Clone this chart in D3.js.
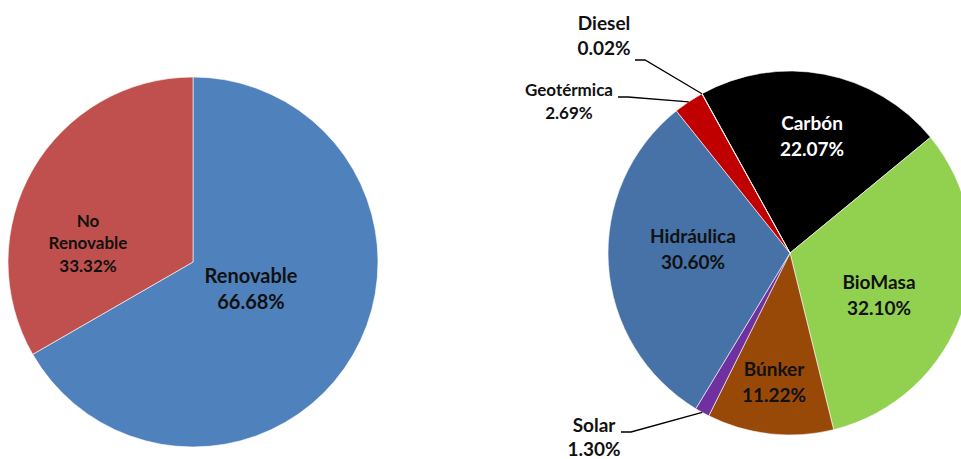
<!DOCTYPE html>
<html>
<head>
<meta charset="utf-8">
<script src="https://cdn.jsdelivr.net/npm/d3@7"></script>
<style>
  html, body { margin: 0; padding: 0; background: #fff; }
  svg { display: block; }
  text { font-family: Lato, "Open Sans", sans-serif; font-weight: bold; }
</style>
</head>
<body>
<svg id="chart" width="961" height="459"></svg>
<script>
// ---- Data ----
const leftCategories = ["Renovable", "No Renovable"];
const leftValues = [66.68, 33.32];

const rightCategories = ["Carbón", "BioMasa", "Búnker", "Solar", "Hidráulica", "Geotérmica", "Diesel"];
const rightValues = [22.07, 32.10, 11.22, 1.30, 30.60, 2.69, 0.02];

// ---- Styles / layout ----
const leftColors = ["#4F81BD", "#C0504D"];
const rightColors = ["#000000", "#92D050", "#984807", "#7030A0", "#4672A8", "#C00000", "#F79646"];

const svg = d3.select("#chart");

function drawPie(cfg) {
  const g = svg.append("g").attr("transform", `translate(${cfg.cx},${cfg.cy})`);
  const pie = d3.pie().sort(null).value(d => d.value)
    .startAngle(cfg.start).endAngle(cfg.start + 2 * Math.PI);
  const arc = d3.arc().innerRadius(0).outerRadius(cfg.r);
  const data = cfg.categories.map((c, i) => ({ name: c, value: cfg.values[i], color: cfg.colors[i] }));
  const arcs = pie(data);

  g.selectAll("path.slice").data(arcs).join("path")
    .attr("class", "slice")
    .attr("d", arc)
    .attr("fill", d => d.data.color)
    .attr("stroke", "#fff")
    .attr("stroke-width", 0.6);

  const fmt = d3.format(".2f");
  arcs.forEach((a, i) => {
    const lab = cfg.labels[a.data.name];
    if (!lab) return;
    const lines = (lab.split ? a.data.name.split(" ") : [a.data.name]).concat([fmt(a.data.value) + "%"]);
    const n = lines.length;
    const t = g.append("text")
      .attr("text-anchor", "middle")
      .attr("font-size", lab.size)
      .attr("fill", lab.color || "#111");
    lines.forEach((ln, k) => {
      t.append("tspan")
        .attr("x", lab.dx)
        .attr("y", lab.dy + (k - (n - 1) / 2) * lab.lh)
        .attr("dy", "0.35em")
        .text(ln);
    });
    if (lab.leader) {
      const mid = (a.startAngle + a.endAngle) / 2;
      const px = cfg.r * Math.sin(mid), py = -cfg.r * Math.cos(mid);
      const [sx, sy] = lab.leader;
      g.append("polyline")
        .attr("points", `${sx},${sy} ${sx + 10},${sy} ${px},${py}`)
        .attr("fill", "none")
        .attr("stroke", "#000")
        .attr("stroke-width", 1.3);
    }
  });
}

drawPie({
  cx: 193, cy: 262, r: 185, start: 0,
  categories: leftCategories, values: leftValues, colors: leftColors,
  labels: {
    "Renovable": { dx: 58, dy: 27, size: 20, lh: 26 },
    "No Renovable": { dx: -105, dy: -18.5, size: 17, lh: 22.5, split: true }
  }
});

drawPie({
  cx: 790, cy: 253, r: 182, start: -28.9 * Math.PI / 180,
  categories: rightCategories, values: rightValues, colors: rightColors,
  labels: {
    "Carbón": { dx: 22, dy: -117, size: 19, lh: 26, color: "#fff" },
    "BioMasa": { dx: 89, dy: 42.5, size: 19, lh: 26 },
    "Búnker": { dx: -16, dy: 129.5, size: 19, lh: 26 },
    "Hidráulica": { dx: -97, dy: -3.5, size: 19, lh: 26 },
    "Diesel": { dx: -186, dy: -217.5, size: 19, lh: 25, leader: [-155, -193] },
    "Geotérmica": { dx: -221, dy: -151.5, size: 17, lh: 23, leader: [-172, -156] },
    "Solar": { dx: -196, dy: 184, size: 19, lh: 24, leader: [-169, 179] }
  }
});
</script>
</body>
</html>
